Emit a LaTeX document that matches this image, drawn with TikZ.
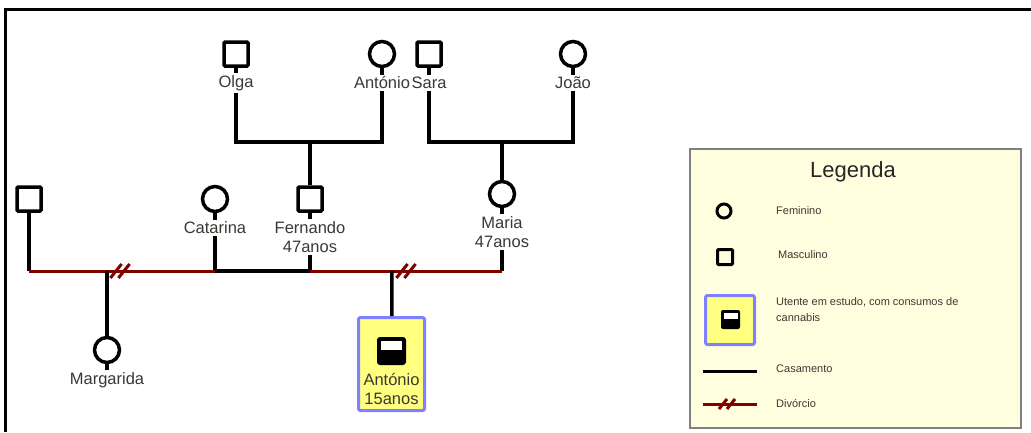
\documentclass[tikz,border=0pt]{standalone}
\usepackage{fontspec}
\setmainfont{Liberation Sans}
\usetikzlibrary{calc}

\definecolor{lbltext}{RGB}{60,55,50}
\definecolor{divred}{RGB}{128,0,0}
\definecolor{patfill}{RGB}{255,255,128}
\definecolor{patedge}{RGB}{128,128,255}
\definecolor{legfill}{RGB}{255,255,224}
\definecolor{legedge}{RGB}{128,128,128}

\tikzset{
  male/.style={draw, rectangle, line width=3.5pt, minimum size=24pt, inner sep=0pt, rounded corners=1pt},
  female/.style={draw, circle, line width=3.5pt, minimum size=25pt, inner sep=0pt},
  lbl/.style={text=lbltext, font=\fontsize{16.5}{19}\selectfont, align=center, inner sep=2pt},
  tie/.style={line width=3.5pt},
  divorce/.style={line width=3pt, divred},
  patbox/.style={draw=patedge, fill=patfill, line width=3pt, rounded corners=2pt, inner sep=0pt},
  legtxt/.style={text=lbltext, font=\fontsize{11}{16}\selectfont, anchor=west, align=left, inner sep=0pt},
}

% two slashes across a divorced couple line
\newcommand{\divmark}[2]{%
  \foreach \d in {-4,4}
    \draw[divorce] ($(#1)+(\d-#2*0.8,#2)$) -- ($(#1)+(\d+#2*0.8,-#2)$);
}

\begin{document}
\begin{tikzpicture}[x=1pt,y=-1pt]
  \useasboundingbox (0,0) rectangle (1031,432);
  \draw[line width=3pt] (5,432) -- (5,9) -- (1031,9);

  % grandparents
  \node[male]   (olga) at (236,54) {};
  \node[female] (ant1) at (382,54) {};
  \node[male]   (sara) at (429,54) {};
  \node[female] (joao) at (573,54) {};
  \node[lbl] (olga-l) at (236,83) {Olga};
  \node[lbl] (ant1-l) at (382,83) {António};
  \node[lbl] (sara-l) at (429,83) {Sara};
  \node[lbl] (joao-l) at (573,83) {João};
  \foreach \p in {olga,ant1,sara,joao}
    \draw[tie] (\p) -- (\p-l);
  \coordinate (oa) at (310,142);
  \coordinate (sj) at (502,142);
  \draw[tie] (olga-l.south) |- (oa) -| (ant1-l.south);
  \draw[tie] (sara-l.south) |- (sj) -| (joao-l.south);

  % parents
  \node[male]   (man1) at (29,199) {};
  \node[female] (cat)  at (215,199) {};
  \node[male]   (fer)  at (310,199) {};
  \node[female] (mar)  at (502,194) {};
  \node[lbl] (cat-l) at (215,228) {Catarina};
  \node[lbl] (fer-l) at (310,237) {Fernando\\47anos};
  \node[lbl] (mar-l) at (502,232) {Maria\\47anos};
  \draw[tie] (oa) -- (fer);
  \draw[tie] (sj) -- (mar);
  \foreach \p in {cat,fer,mar}
    \draw[tie] (\p) -- (\p-l);

  \coordinate (j1) at (29,271);
  \coordinate (j2) at (215,271);
  \coordinate (j3) at (310,271);
  \coordinate (j4) at (502,271);
  \draw[tie] (man1) -- (j1);
  \draw[tie] (cat-l) -- (j2) -- (j3) -- (fer-l);
  \draw[tie] (mar-l) -- (j4);
  \draw[divorce] (j1) -- (j2);
  \draw[divorce] (j3) -- (j4);
  \divmark{120,271}{7}
  \divmark{406,271}{7}

  % children
  \coordinate (c1) at (107,271);
  \coordinate (c2) at (392,271);
  \node[female] (marg) at (107,350) {};
  \node[lbl] (marg-l) at (107,380) {Margarida};
  \draw[tie] (c1) -- (marg);
  \draw[tie] (marg) -- (marg-l);
  \node[patbox, minimum width=66pt, minimum height=93pt] (pat) at (391.5,364) {};
  \node[fill=black, rounded corners=3pt, minimum width=29pt, minimum height=28pt, inner sep=0pt] (pat-ic) at (391.5,351) {};
  \node[fill=white, minimum width=21pt, minimum height=9pt, inner sep=0pt, anchor=north] at ($(pat-ic.north)+(0,4)$) {};
  \node[lbl] (pat-l) at (391.5,389) {António\\15anos};
  \draw[tie] (c2) -- (pat);

  % legend
  \node[draw=legedge, fill=legfill, line width=2pt, minimum width=331pt, minimum height=279pt, inner sep=0pt] (leg) at (855,288) {};
  \node[text=black!85, font=\fontsize{22}{26}\selectfont] (leg-t) at (853,172) {Legenda};
  \node[female, line width=3pt, minimum size=14pt] (leg-f) at (724,211) {};
  \node[male, line width=3pt, minimum size=15pt] (leg-m) at (725,257) {};
  \node[patbox, minimum size=49pt] (leg-p) at (730,320) {};
  \node[fill=black, rounded corners=2pt, minimum size=19pt, inner sep=0pt] (leg-ic) at (730.5,319.5) {};
  \node[fill=white, minimum width=14pt, minimum height=6pt, inner sep=0pt, anchor=north] at ($(leg-ic.north)+(0,3)$) {};
  \coordinate (cas-a) at (703,371);
  \coordinate (cas-b) at (757,371);
  \coordinate (div-a) at (703,404);
  \coordinate (div-b) at (757,404);
  \draw[line width=3pt] (cas-a) -- (cas-b);
  \draw[divorce] (div-a) -- (div-b);
  \divmark{727,404}{5}
  \node[legtxt] at (776,211) {Feminino};
  \node[legtxt] at (778,255) {Masculino};
  \node[legtxt] at (776,310) {Utente em estudo, com consumos de\\cannabis};
  \node[legtxt] at (776,369) {Casamento};
  \node[legtxt] at (776,403) {Divórcio};
\end{tikzpicture}
\end{document}
